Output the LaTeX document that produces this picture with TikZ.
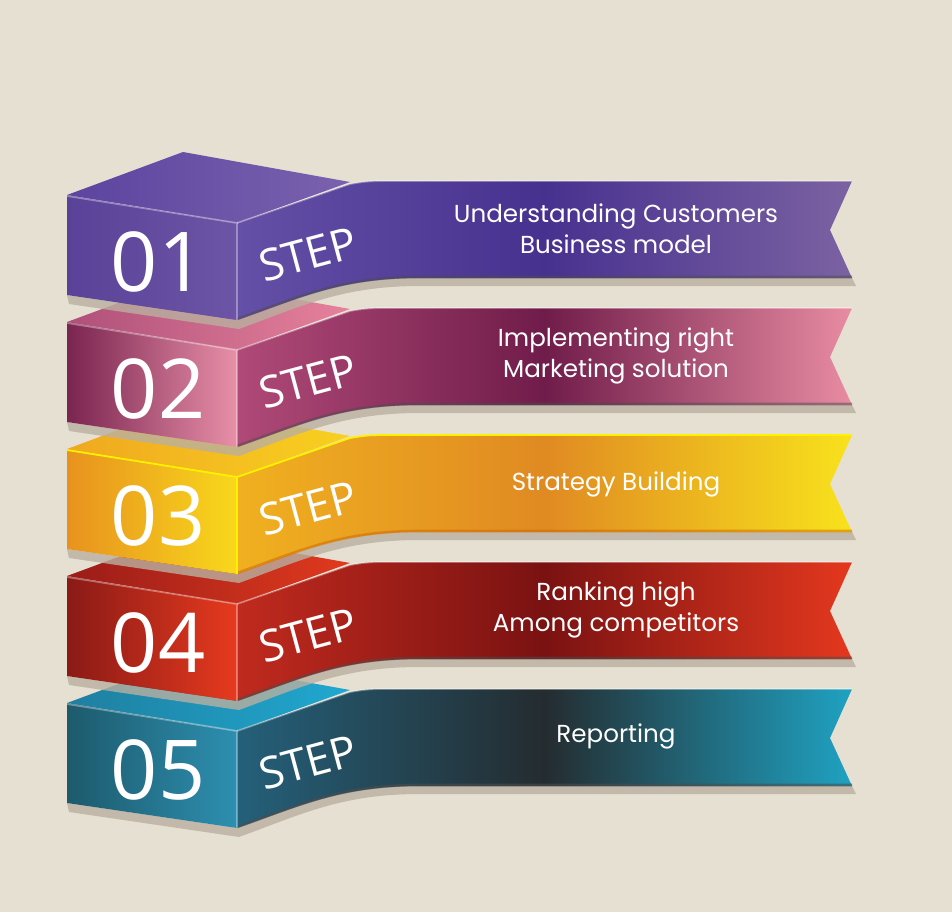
\documentclass[tikz,border=0pt]{standalone}
\usepackage{fontspec}
\setmainfont{Open Sans}
\newfontfamily\ribbonfont{Poppins}

\definecolor{bg}{HTML}{E6E0D2}
\definecolor{shadowgray}{HTML}{B9B0A0}

\begin{document}
\begin{tikzpicture}[x=0.02cm, y=-0.02cm,
    num/.style={text=white, inner sep=0pt, font=\fontsize{47}{47}\selectfont},
    steplabel/.style={text=white, inner sep=0pt, rotate=15, font=\fontsize{25}{25}\selectfont},
    ribbontext/.style={text=white, inner sep=0pt, align=center, font=\ribbonfont\fontsize{14}{17.6}\selectfont},
    shadow/.style={fill=shadowgray, opacity=.8},
    highlight/.style={white, opacity=.35, line width=1pt}]

    %Hintergrund
    \fill[bg] (0,0) rectangle (952,912);
    \useasboundingbox (0,0) rectangle (952,912);

    %Step 05
    \begin{scope}[shift={(0,508)}]
    \fill[shadow] (67,295)--(237,320) .. controls (300,298) and (340,278) .. (420,278)--(852,278)--(856,286)--(420,286) .. controls (342,286) and (302,306) .. (239,329)--(69,304)--cycle;
    \shade[left color={rgb,255:red,31;green,127;blue,160}, right color={rgb,255:red,32;green,168;blue,208}] (67,195)--(183,152)--(350,182)--(237,223)--cycle;
    \shade[left color={rgb,255:red,29;green,90;blue,108}, right color={rgb,255:red,45;green,143;blue,176}] (67,195)--(237,223)--(237,320)--(67,295)--cycle;
    \shade[left color={rgb,255:red,36;green,96;blue,122}, right color={rgb,255:red,31;green,162;blue,194}, middle color={rgb,255:red,36;green,44;blue,48}] (237,223)--(350,184) .. controls (368,181) .. (400,181)--(852,181)--(830,230)--(852,278)--(420,278) .. controls (340,278) and (300,298) .. (237,320)--cycle;
    \draw[black!70, line width=1.5pt, opacity=.6] (237,319) .. controls (300,297) and (340,277) .. (420,277)--(852,277);
    \draw[highlight] (67,196)--(237,223)--(237,320);
    \draw[highlight] (237,223)--(350,184) .. controls (368,181) .. (400,181)--(852,181);
    \node[num] (n5) at (158,262) {05};
    \node[steplabel] (s5) at (308,254) {STEP};
    \node[ribbontext] (t5) at (616,228) {Reporting};
    \end{scope}

    %Step 04
    \begin{scope}[shift={(0,381)}]
    \fill[shadow] (67,295)--(237,320) .. controls (300,298) and (340,278) .. (420,278)--(852,278)--(856,286)--(420,286) .. controls (342,286) and (302,306) .. (239,329)--(69,304)--cycle;
    \shade[left color={rgb,255:red,154;green,28;blue,24}, right color={rgb,255:red,224;green,58;blue,30}] (67,195)--(183,152)--(350,182)--(237,223)--cycle;
    \shade[left color={rgb,255:red,138;green,26;blue,22}, right color={rgb,255:red,230;green,58;blue,30}] (67,195)--(237,223)--(237,320)--(67,295)--cycle;
    \shade[left color={rgb,255:red,192;green,42;blue,30}, right color={rgb,255:red,228;green,56;blue,30}, middle color={rgb,255:red,122;green,18;blue,18}] (237,223)--(350,184) .. controls (368,181) .. (400,181)--(852,181)--(830,230)--(852,278)--(420,278) .. controls (340,278) and (300,298) .. (237,320)--cycle;
    \draw[black!70, line width=1.5pt, opacity=.5] (237,319) .. controls (300,297) and (340,277) .. (420,277)--(852,277);
    \draw[highlight] (67,196)--(237,223)--(237,320);
    \draw[highlight] (237,223)--(350,184) .. controls (368,181) .. (400,181)--(852,181);
    \node[num] (n4) at (158,262) {04};
    \node[steplabel] (s4) at (308,254) {STEP};
    \node[ribbontext] (t4) at (616,229) {Ranking high\\Among competitors};
    \end{scope}

    %Step 03
    \begin{scope}[shift={(0,254)}]
    \fill[shadow] (67,295)--(237,320) .. controls (300,298) and (340,278) .. (420,278)--(852,278)--(856,286)--(420,286) .. controls (342,286) and (302,306) .. (239,329)--(69,304)--cycle;
    \shade[left color={rgb,255:red,240;green,168;blue,32}, right color={rgb,255:red,248;green,208;blue,32}] (67,195)--(183,152)--(350,182)--(237,223)--cycle;
    \shade[left color={rgb,255:red,232;green,146;blue,30}, right color={rgb,255:red,248;green,216;blue,28}] (67,195)--(237,223)--(237,320)--(67,295)--cycle;
    \shade[left color={rgb,255:red,240;green,176;blue,32}, right color={rgb,255:red,248;green,226;blue,28}, middle color={rgb,255:red,224;green,138;blue,34}] (237,223)--(350,184) .. controls (368,181) .. (400,181)--(852,181)--(830,230)--(852,278)--(420,278) .. controls (340,278) and (300,298) .. (237,320)--cycle;
    \draw[orange!80!black, line width=1.5pt, opacity=.5] (237,319) .. controls (300,297) and (340,277) .. (420,277)--(852,277);
    \draw[yellow, line width=1pt] (67,196)--(237,223)--(237,320);
    \draw[yellow, line width=1pt] (237,223)--(350,184) .. controls (368,181) .. (400,181)--(852,181);
    \node[num] (n3) at (158,262) {03};
    \node[steplabel] (s3) at (308,254) {STEP};
    \node[ribbontext] (t3) at (616,230) {Strategy Building};
    \end{scope}

    %Step 02
    \begin{scope}[shift={(0,127)}]
    \fill[shadow] (67,295)--(237,320) .. controls (300,298) and (340,278) .. (420,278)--(852,278)--(856,286)--(420,286) .. controls (342,286) and (302,306) .. (239,329)--(69,304)--cycle;
    \shade[left color={rgb,255:red,176;green,80;blue,122}, right color={rgb,255:red,230;green,130;blue,156}] (67,195)--(183,152)--(350,182)--(237,223)--cycle;
    \shade[left color={rgb,255:red,122;green,36;blue,80}, right color={rgb,255:red,232;green,144;blue,168}] (67,195)--(237,223)--(237,320)--(67,295)--cycle;
    \shade[left color={rgb,255:red,176;green,74;blue,120}, right color={rgb,255:red,232;green,140;blue,162}, middle color={rgb,255:red,112;green,28;blue,74}] (237,223)--(350,184) .. controls (368,181) .. (400,181)--(852,181)--(830,230)--(852,278)--(420,278) .. controls (340,278) and (300,298) .. (237,320)--cycle;
    \draw[black!70, line width=1.5pt, opacity=.5] (237,319) .. controls (300,297) and (340,277) .. (420,277)--(852,277);
    \draw[highlight] (67,196)--(237,223)--(237,320);
    \draw[highlight] (237,223)--(350,184) .. controls (368,181) .. (400,181)--(852,181);
    \node[num] (n2) at (158,262) {02};
    \node[steplabel] (s2) at (308,254) {STEP};
    \node[ribbontext] (t2) at (616,229) {Implementing right\\Marketing solution};
    \end{scope}

    %Step 01
    \begin{scope}
    \fill[shadow] (67,295)--(237,320) .. controls (300,298) and (340,278) .. (420,278)--(852,278)--(856,286)--(420,286) .. controls (342,286) and (302,306) .. (239,329)--(69,304)--cycle;
    \shade[left color={rgb,255:red,92;green,68;blue,160}, right color={rgb,255:red,122;green,98;blue,174}] (67,195)--(183,152)--(350,182)--(237,223)--cycle;
    \shade[left color={rgb,255:red,90;green,66;blue,152}, right color={rgb,255:red,108;green,84;blue,166}] (67,195)--(237,223)--(237,320)--(67,295)--cycle;
    \shade[left color={rgb,255:red,100;green,80;blue,166}, right color={rgb,255:red,123;green,98;blue,162}, middle color={rgb,255:red,71;green,49;blue,143}] (237,223)--(350,184) .. controls (368,181) .. (400,181)--(852,181)--(830,230)--(852,278)--(420,278) .. controls (340,278) and (300,298) .. (237,320)--cycle;
    \draw[black!70, line width=1.5pt, opacity=.5] (237,319) .. controls (300,297) and (340,277) .. (420,277)--(852,277);
    \draw[highlight] (67,196)--(237,223)--(237,320);
    \draw[highlight] (237,223)--(350,184) .. controls (368,181) .. (400,181)--(852,181);
    \node[num] (n1) at (158,262) {01};
    \node[steplabel] (s1) at (308,254) {STEP};
    \node[ribbontext] (t1) at (616,229) {Understanding Customers\\Business model};
    \end{scope}

\end{tikzpicture}
\end{document}
